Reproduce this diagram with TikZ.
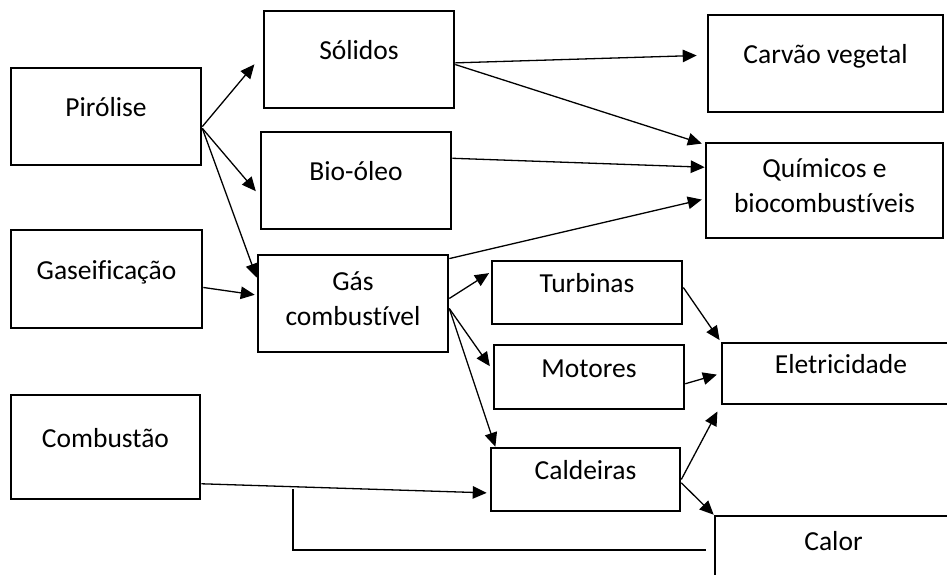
\documentclass[tikz,border=0pt]{standalone}
\usepackage{fontspec}
\setmainfont{Carlito}[Ligatures=NoCommon]
\usetikzlibrary{arrows.meta}
\tikzset{
  wh/.style 2 args={minimum width=#1pt, minimum height=#2pt},
  box/.style ={draw, line width=2.6pt, inner sep=0pt, align=center,
               font=\fontsize{27.5pt}{35pt}\selectfont,
               text height=10pt, text depth=10pt},
  box2/.style={box, text height=57pt, text depth=13pt},
  flow/.style={-{Triangle[length=14pt, width=12.5pt]}, line width=1.3pt},
  link/.style={line width=1.5pt},
}
\begin{document}
\begin{tikzpicture}[x=1pt, y=-1pt]
  \clip (0,0) rectangle (947,574);
  % processos
  \node[box, wh={190}{97}]  (piro)  at (106,116.5)   {Pirólise};
  \node[box, wh={191}{98}]  (gase)  at (106.5,279)   {Gaseificação};
  \node[box, wh={189}{104}] (comb)  at (105.5,447)   {Combustão};
  % produtos
  \node[box, wh={190}{97}]  (soli)  at (359,59.5)    {Sólidos};
  \node[box, wh={190}{97}]  (bio)   at (356,180.5)   {Bio-óleo};
  \node[box2, wh={190}{97}] (gas)   at (353,303.5)   {Gás\\combustível};
  \node[box, wh={190}{63}]  (turb)  at (587,292.5)   {Turbinas};
  \node[box, wh={190}{64}]  (moto)  at (589,377)     {Motores};
  \node[box, wh={189}{63}]  (cald)  at (585.5,479.5) {Caldeiras};
  % usos finais
  \node[box, wh={235}{97}]  (carv)  at (825.5,63.5)  {Carvão vegetal};
  \node[box2, wh={237}{95}] (quim)  at (824.5,190.5) {Químicos e\\biocombustíveis};
  \node[box, wh={238}{61}]  (elet)  at (841,373.5)   {Eletricidade};
  \node[box, wh={237}{68}]  (calor) at (833.5,550)   {Calor};

  \draw[flow, shorten >=13pt] (piro.-6) -- (soli.177);
  \draw[flow, shorten >=6pt]  (piro.-7) -- (bio.189);
  \draw[flow]                 (piro.-7) -- (gas.165);
  \draw[flow, shorten >=2pt]  (gase.-5) -- (gas.175);
  \draw[flow, shorten >=10pt] (soli.-2) -- (carv.176);
  \draw[flow, shorten >=3pt]  (soli.-3) -- (quim.159);
  \draw[flow]                 (bio.13) -- (quim.169);
  \draw[flow, shorten >=3pt]  (gas.25) -- (quim.-176);
  \draw[flow, shorten >=2pt]  (gas.3) -- (turb.168);
  \draw[flow, shorten >=5pt]  (gas.-3) -- (moto.176);
  \draw[flow]                 (gas.-3) -- (cald.160);
  \draw[flow, shorten >=2pt]  (turb.3) -- (elet.north west);
  \draw[flow, shorten >=4pt]  (moto.-4) -- (elet.west);
  \draw[flow, shorten >=7pt]  (cald.east) -- (elet.south west);
  \draw[flow]                 (cald.-2) -- (calor.north west);
  \draw[flow, shorten >=3pt]  (comb.-21) -- (cald.-172);
  % retorno para o calor
  \coordinate (jn) at (293,489);
  \draw[link, shorten >=8pt] (jn) |- (calor.west);
\end{tikzpicture}
\end{document}
